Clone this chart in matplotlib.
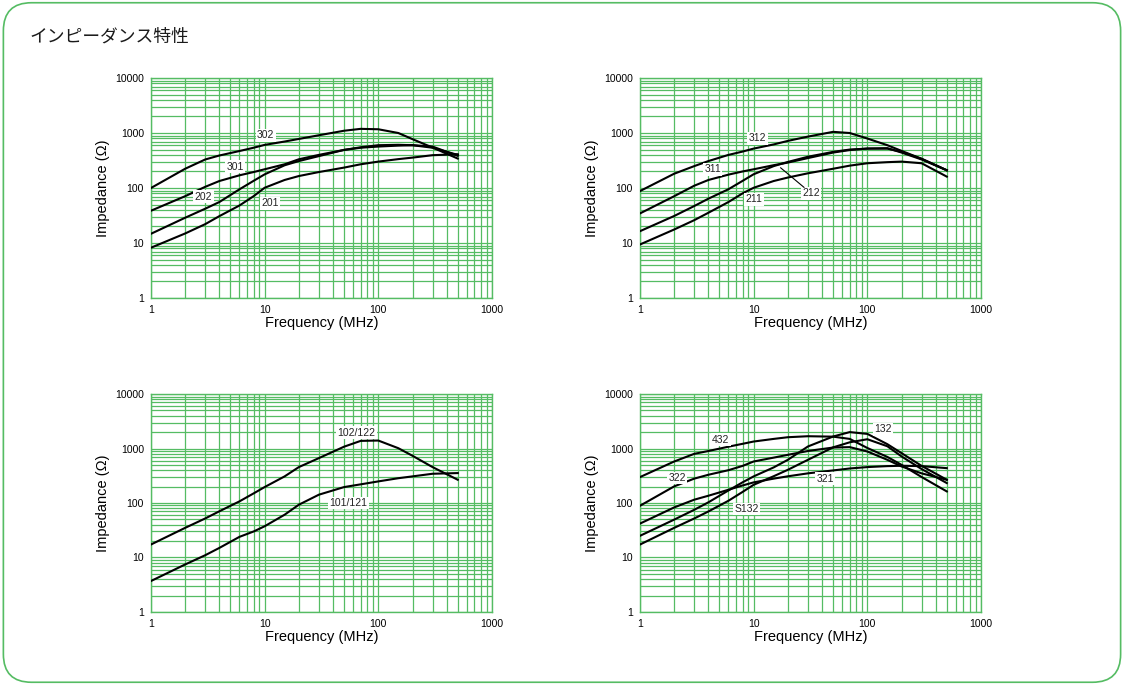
import matplotlib.pyplot as plt
from matplotlib.patches import FancyBboxPatch

plt.rcParams['font.family'] = ['Liberation Sans', 'Noto Sans CJK JP', 'DejaVu Sans']

# frequencies (MHz) shared by the read-off points
freq = [1, 2, 3, 4, 6, 8, 10, 15, 20, 30, 50, 70, 100, 150, 200, 300, 500]

# panel 1
z302 = [100, 224, 330, 390, 470, 540, 608, 700, 780, 910, 1100, 1190, 1170, 1000, 773, 544, 343]
z301 = [38.6, 71, 105, 134, 170, 195, 219, 270, 333, 400, 493, 540, 567, 590, 600, 567, 384]
z202 = [14.7, 28.8, 42, 55.6, 94.5, 135, 177, 259, 309, 380, 493, 550, 600, 610, 600, 540, 400]
z201 = [8.2, 14.9, 22, 30.8, 48, 71, 101, 140, 165, 195, 235, 270, 302, 335, 357, 395, 411]

# panel 2
z312 = [88, 182, 250, 309, 400, 460, 521, 620, 719, 860, 1050, 1000, 794, 600, 473, 340, 210]
z311 = [34.5, 71, 110, 140, 175, 200, 219, 260, 290, 350, 441, 490, 521, 530, 441, 330, 210]
z212 = [16.4, 31, 47, 64, 95, 135, 178, 250, 298, 370, 454, 500, 521, 520, 454, 340, 210]
z211 = [9.4, 17.6, 26, 35.5, 55.6, 80, 101, 134, 155, 185, 224, 255, 282, 295, 302, 282, 161]

# panel 3
z102 = [17.3, 35, 52, 70.5, 107, 150, 196, 308, 456, 666, 1080, 1380, 1400, 1013, 735, 456, 267]
z101 = [3.7, 7.45, 11, 15, 23.9, 30, 37.4, 61, 93, 142, 196, 220, 249, 285, 308, 344, 354]

# panel 4
z432 = [299, 578, 798, 900, 1080, 1220, 1343, 1500, 1611, 1680, 1650, 1500, 1022, 700, 501, 300, 163]
z322 = [89, 202, 280, 330, 400, 480, 578, 680, 766, 900, 1042, 1060, 881, 620, 468, 350, 267]
z321 = [41.9, 83, 115, 136, 175, 210, 239, 280, 309, 350, 396, 430, 456, 475, 482, 475, 436]
z132 = [25, 49.6, 75, 103, 170, 240, 308, 450, 621, 1089, 1660, 2000, 1854, 1200, 822, 480, 267]
zs132 = [17.3, 35, 52, 70, 110, 160, 216, 310, 407, 620, 1050, 1300, 1479, 1100, 715, 420, 232]

panels = [
    ([z302, z301, z202, z201],
     [("302", 10.2, 912), ("301", 5.5, 245), ("202", 2.9, 69.5), ("201", 11.2, 52.6)]),
    ([z312, z311, z212, z211],
     [("312", 10.8, 805), ("311", 4.36, 219), ("211", 10.1, 62), ("212", 31.9, 80)]),
    ([z102, z101],
     [("102/122", 64.4, 1963), ("101/121", 54.4, 100)]),
    ([z432, z322, z321, z132, zs132],
     [("432", 5.13, 1442), ("322", 2.13, 287), ("321", 42.4, 279), ("S132", 8.68, 77.6), ("132", 138, 2259)]),
]

green = '#55bc63'
fig = plt.figure(figsize=(11.24, 6.85), dpi=100)

border = FancyBboxPatch((0.003, 0.004), 0.994, 0.992, boxstyle="round,pad=0,rounding_size=0.025",
                        transform=fig.transFigure, fill=False, edgecolor=green, linewidth=1.2,
                        mutation_aspect=1124 / 685)
fig.patches.append(border)
fig.text(0.026, 0.946, "インピーダンス特性", fontsize=12.8, ha='left', va='center',
         family=['Noto Sans CJK JP', 'DejaVu Sans'], color='#1a1a1a')

rects = [[0.1343, 0.565, 0.3034, 0.3211], [0.5694, 0.565, 0.3034, 0.3211],
         [0.1343, 0.1066, 0.3034, 0.3182], [0.5694, 0.1066, 0.3034, 0.3182]]

for rect, (curves, labels) in zip(rects, panels):
    ax = fig.add_axes(rect)
    ax.set_xscale('log')
    ax.set_yscale('log')
    ax.set_xlim(1, 1000)
    ax.set_ylim(1, 10000)
    ax.grid(True, which='both', color=green, linewidth=0.9)
    ax.set_axisbelow(True)
    for s in ax.spines.values():
        s.set_color(green)
        s.set_linewidth(1.0)
    ax.tick_params(which='both', length=0, labelsize=7.5, pad=5)
    ax.set_xticks([1, 10, 100, 1000], ['1', '10', '100', '1000'])
    ax.set_yticks([1, 10, 100, 1000, 10000], ['1', '10', '100', '1000', '10000'])
    ax.set_xlabel("Frequency (MHz)", fontsize=10.5, labelpad=1)
    ax.set_ylabel("Impedance (Ω)", fontsize=10.5, labelpad=4)
    for z in curves:
        ax.plot(freq, z, color='black', linewidth=1.5, zorder=3)
    for txt, x, y in labels:
        ax.text(x, y, txt, fontsize=7.5, ha='center', va='center', zorder=4, color='#222222',
                bbox=dict(facecolor='white', edgecolor='none', pad=1.0))
    if txt == "212":
        ax.annotate("", xy=(16.5, 252), xytext=(29, 95),
                    arrowprops=dict(arrowstyle='-', color='black', lw=0.8), zorder=4)

fig.savefig("out.png", dpi=100)
